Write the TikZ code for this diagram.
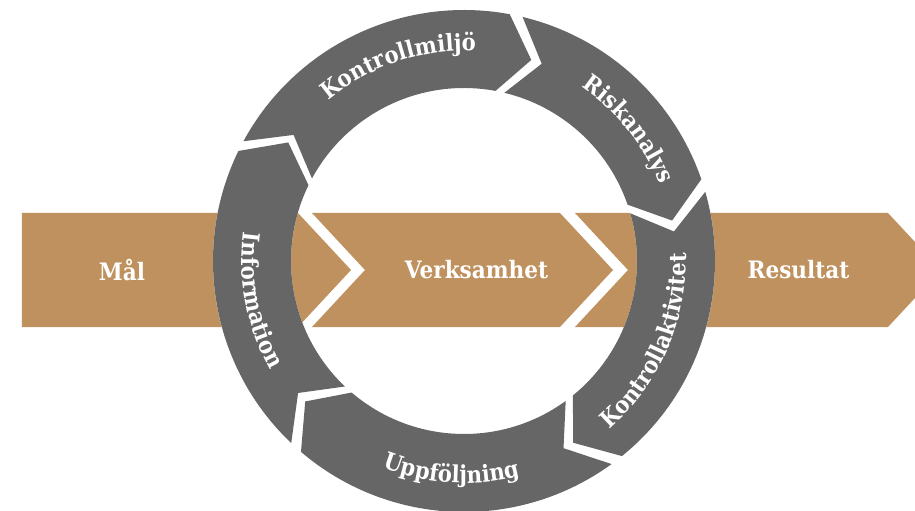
\documentclass[tikz,border=0pt]{standalone}
\usepackage{fontspec}
\setmainfont{DejaVu Serif}[FakeStretch=0.9]
\usetikzlibrary{decorations.text}
\definecolor{bandbrown}{HTML}{BF915E}
\definecolor{ringgray}{HTML}{666666}
\tikzset{band/.style = {fill=bandbrown, draw=none}}
\tikzset{ringpart/.style = {fill=ringgray, draw=none}}
\tikzset{bandlabel/.style = {text=white, inner sep=0, font=\bfseries\fontsize{24}{28}\selectfont}}
\newcommand{\ringfont}{\bfseries\fontsize{23.5}{28}\selectfont}
% ring arrow: start angle, end angle (clockwise)
\newcommand{\ringseg}[2]{%
  \fill[ringpart] (#1:251) arc (#1:#2:251) -- ({#2-8}:212) -- (#2:173)
    arc (#2:#1:173) -- ({#1-8}:212) -- cycle;}
% text on the ring: from angle, to angle, radius, text
\newcommand{\ringtext}[4]{%
  \path[decorate, decoration={text along path, text align=center,
    text color=white, text={|\ringfont|#4}}] (#1:#3) arc (#1:#2:#3);}

\begin{document}
\begin{tikzpicture}[x=1pt,y=1pt]
\useasboundingbox (-464,-250) rectangle (451,261);
\clip (-464,-250) rectangle (451,261);
\fill [white] (-464,-250) rectangle (451,261);

% band of chevrons
\fill [band] (-442,48) -- (-166,48) -- (-113,-9) -- (-166,-66) -- (-442,-66) -- cycle;
\fill [band] (-152,48) -- (96,48) -- (149,-9) -- (96,-66) -- (-152,-66) -- (-99,-9) -- cycle;
\fill [band] (111,48) -- (424,48) -- (477,-9) -- (424,-66) -- (111,-66) -- (164,-9) -- cycle;
\node [bandlabel] (mal) at (-342,-9) {Mål};
\node [bandlabel] (verk) at (12.5,-9) {Verksamhet};
\node [bandlabel] (res) at (334.5,-9) {Resultat};

% ring
\fill [white, even odd rule] (0,0) circle (251) circle (173);
\ringseg{151.5}{79.5}
\ringseg{76.5}{19}
\ringseg{16}{-51}
\ringseg{-54}{-130.5}
\ringseg{-133.5}{-206}
\ringtext{148.5}{68.5}{210}{Kontrollmiljö}
\ringtext{73.6}{3.6}{210}{Riskanalys}
\ringtext{-63.6}{16.4}{222}{Kontrollaktivitet}
\ringtext{-133.5}{-53.5}{222}{Uppföljning}
\ringtext{150.9}{230.9}{222}{Information}
\end{tikzpicture}
\end{document}
